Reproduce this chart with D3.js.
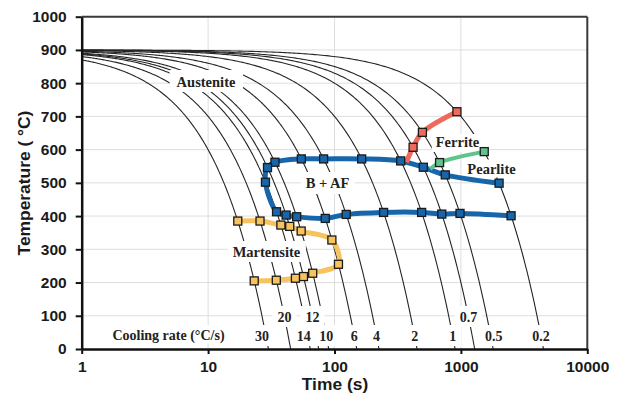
<!DOCTYPE html>
<html>
<head>
<meta charset="utf-8">
<script src="https://cdn.jsdelivr.net/npm/d3@7"></script>
<style>
  body { margin: 0; background: #fff; }
  svg { display: block; }
</style>
</head>
<body>
<svg id="chart" width="618" height="394"></svg>
<script>
// ---- Data -------------------------------------------------------------
// Continuous cooling from the austenitizing temperature at constant rates (°C/s)
const startTemp = 900;
const coolingRates = [30, 20, 14, 12, 10, 6, 4, 2, 1, 0.7, 0.5, 0.2];
const rateLabels = ["30", "20", "14", "12", "10", "6", "4", "2", "1", "0.7", "0.5", "0.2"];

// Transformation points: cooling rate of the curve crossed and temperature (°C)
const bainiteStartRates = [0.2, 0.5, 0.7, 1, 2, 4, 6, 10, 12, 14];
const bainiteStartTemps = [499, 524, 547, 566, 572, 572, 572, 562, 546, 502];
const bainiteFinishRates = [14, 12, 10, 6, 4, 2, 1, 0.7, 0.5, 0.2];
const bainiteFinishTemps = [413, 403, 398, 393, 405, 411, 411, 406, 408, 401];

const martensiteStartRates = [30, 20, 14, 12, 10, 6];
const martensiteStartTemps = [385, 385, 373, 369, 355, 328];
const martensiteFinishRates = [6, 10, 12, 14, 20, 30];
const martensiteFinishTemps = [255, 228, 218, 213, 207, 205];

const ferriteStartRates = [0.7, 0.5, 0.2];
const ferriteStartTemps = [607, 652, 714];
const ferriteBranch = [370, 562];      // [time (s), temperature] on the bainite start line

const pearliteStartRates = [0.5, 0.2];
const pearliteStartTemps = [561, 594];
const pearliteBranch = [570, 542];     // [time (s), temperature] on the bainite start line

const timeTicks = [1, 10, 100, 1000, 10000];
const tempTicks = [0, 100, 200, 300, 400, 500, 600, 700, 800, 900, 1000];

// ---- Layout -----------------------------------------------------------
const svg = d3.select("#chart");
const plot = { left: 81.7, right: 587.3, top: 16.7, bottom: 349 };
const x = d3.scaleLog().domain([1, 10000]).range([plot.left, plot.right]);
const y = d3.scaleLinear().domain([0, 1000]).range([plot.bottom, plot.top]);

const sansBold = "'Liberation Sans', Arial, Helvetica, sans-serif";
const serif = "'Liberation Serif', 'Times New Roman', Times, serif";

// gridlines
const grid = svg.append("g");
grid.selectAll("line.h")
  .data(tempTicks.filter(d => d > 0 && d < 1000))
  .join("line")
  .attr("x1", plot.left).attr("x2", plot.right)
  .attr("y1", d => y(d)).attr("y2", d => y(d))
  .attr("stroke", "#dedede").attr("stroke-width", 1);
grid.selectAll("line.v")
  .data(timeTicks.filter(d => d > 1 && d < 10000))
  .join("line")
  .attr("y1", plot.top).attr("y2", plot.bottom)
  .attr("x1", d => x(d)).attr("x2", d => x(d))
  .attr("stroke", "#dedede").attr("stroke-width", 1);

// cooling curves T = startTemp - rate * t
const toXY = d3.line().x(d => x(d[0])).y(d => y(d[1]));
const curves = svg.append("g");
coolingRates.forEach(r => {
  const tEnd = startTemp / r;
  const n = 200;
  const pts = d3.range(n + 1).map(i => {
    const t = Math.pow(10, Math.log10(tEnd) * i / n);
    return [t, Math.max(0, startTemp - r * t)];
  });
  curves.append("path")
    .attr("d", toXY(pts))
    .attr("fill", "none")
    .attr("stroke", "#262626")
    .attr("stroke-width", 1.1);
});

// labels on white boxes, breaking the curves underneath
const labels = svg.append("g");
function boxedLabel(txt, cx, baseline, size, padX = 5, padTop = 16, padBottom = 5) {
  const g = labels.append("g");
  const rect = g.append("rect").attr("fill", "#fff");
  const t = g.append("text")
    .attr("x", cx).attr("y", baseline)
    .attr("text-anchor", "middle")
    .attr("font-family", serif)
    .attr("font-weight", "bold")
    .attr("font-size", size)
    .attr("fill", "#222")
    .text(txt);
  const bb = t.node().getBBox();
  rect.attr("x", bb.x - padX).attr("width", bb.width + 2 * padX)
      .attr("y", baseline - padTop).attr("height", padTop + padBottom);
}

const upperRow = new Set(["20", "12", "0.7"]);
const labelNudge = { "30": -4, "14": -4, "0.5": 3 };
coolingRates.forEach((r, i) => {
  const lab = rateLabels[i];
  const baseline = upperRow.has(lab) ? 322 : 341;
  const temp = y.invert(baseline - 5);
  const cx = x((startTemp - temp) / r) + (labelNudge[lab] || 0);
  boxedLabel(lab, cx, baseline, 14);
});

boxedLabel("Austenite", 206, 87, 14.5, 7, 17, 5);
boxedLabel("B + AF", 327.5, 188, 14.5, 5, 16, 6);
boxedLabel("Martensite", 266.5, 257, 14.5, 5, 16, 5);
boxedLabel("Ferrite", 457.5, 147, 14.5, 4, 13, 5);
boxedLabel("Pearlite", 491.5, 173.5, 14.5, 4, 14, 4);
boxedLabel("Cooling rate (°C/s)", 168.5, 339.5, 14, 3, 14, 4);

// transformation lines
const toPoints = (rates, temps) => rates.map((r, i) => [(startTemp - temps[i]) / r, temps[i]]);
const smooth = d3.line().x(d => x(d[0])).y(d => y(d[1])).curve(d3.curveCatmullRom.alpha(0.5));

const bainitePts = toPoints(bainiteStartRates, bainiteStartTemps)
  .concat(toPoints(bainiteFinishRates, bainiteFinishTemps));
const martensitePts = toPoints(martensiteStartRates, martensiteStartTemps)
  .concat(toPoints(martensiteFinishRates, martensiteFinishTemps));
const ferritePts = toPoints(ferriteStartRates, ferriteStartTemps);
const pearlitePts = toPoints(pearliteStartRates, pearliteStartTemps);

const series = [
  { color: "#1766ab", width: 5, line: bainitePts, marks: bainitePts },
  { color: "#f7c35f", width: 5, line: martensitePts, marks: martensitePts },
  { color: "#ee6a5d", width: 5, line: [ferriteBranch].concat(ferritePts), marks: ferritePts },
  { color: "#5fc48c", width: 4, line: [pearliteBranch].concat(pearlitePts), marks: pearlitePts }
];

const lines = svg.append("g");
series.forEach(s => {
  lines.append("path")
    .attr("d", smooth(s.line))
    .attr("fill", "none")
    .attr("stroke", s.color)
    .attr("stroke-width", s.width)
    .attr("stroke-linejoin", "round");
});
series.forEach(s => {
  lines.append("g").selectAll("rect")
    .data(s.marks)
    .join("rect")
    .attr("x", d => x(d[0]) - 4)
    .attr("y", d => y(d[1]) - 4)
    .attr("width", 8).attr("height", 8)
    .attr("fill", s.color)
    .attr("stroke", "#1a1a1a")
    .attr("stroke-width", 1.3);
});

// frame (top and right)
svg.append("line")
  .attr("x1", plot.left).attr("x2", plot.right)
  .attr("y1", plot.top).attr("y2", plot.top)
  .attr("stroke", "#3a3a3a").attr("stroke-width", 2);
svg.append("line")
  .attr("x1", plot.right).attr("x2", plot.right)
  .attr("y1", plot.top).attr("y2", plot.bottom)
  .attr("stroke", "#3a3a3a").attr("stroke-width", 2);

// axes
const yAxis = d3.axisLeft(y).tickValues(tempTicks).tickFormat(d3.format("d"))
  .tickSize(6).tickSizeOuter(0).tickPadding(9);
const xAxis = d3.axisBottom(x).tickValues(timeTicks).tickFormat(d3.format("d"))
  .tickSize(5).tickSizeOuter(0).tickPadding(7);

const gy = svg.append("g").attr("transform", `translate(${plot.left},0)`).call(yAxis);
const gx = svg.append("g").attr("transform", `translate(0,${plot.bottom})`).call(xAxis);
[gx, gy].forEach(g => {
  g.select(".domain").attr("stroke", "#111").attr("stroke-width", 2.5);
  g.selectAll(".tick line").attr("stroke", "#111").attr("stroke-width", 2);
  g.selectAll(".tick text")
    .attr("font-family", sansBold)
    .attr("font-weight", "bold")
    .attr("font-size", 15.5)
    .attr("fill", "#1a1a1a");
});

// axis titles
svg.append("text")
  .attr("x", 335).attr("y", 390)
  .attr("text-anchor", "middle")
  .attr("font-family", sansBold).attr("font-weight", "bold")
  .attr("font-size", 17.4).attr("fill", "#1a1a1a")
  .text("Time (s)");
svg.append("text")
  .attr("transform", `translate(30,183) rotate(-90)`)
  .attr("text-anchor", "middle")
  .attr("font-family", sansBold).attr("font-weight", "bold")
  .attr("font-size", 17.4).attr("fill", "#1a1a1a")
  .text("Temperature ( °C)");
</script>
</body>
</html>
